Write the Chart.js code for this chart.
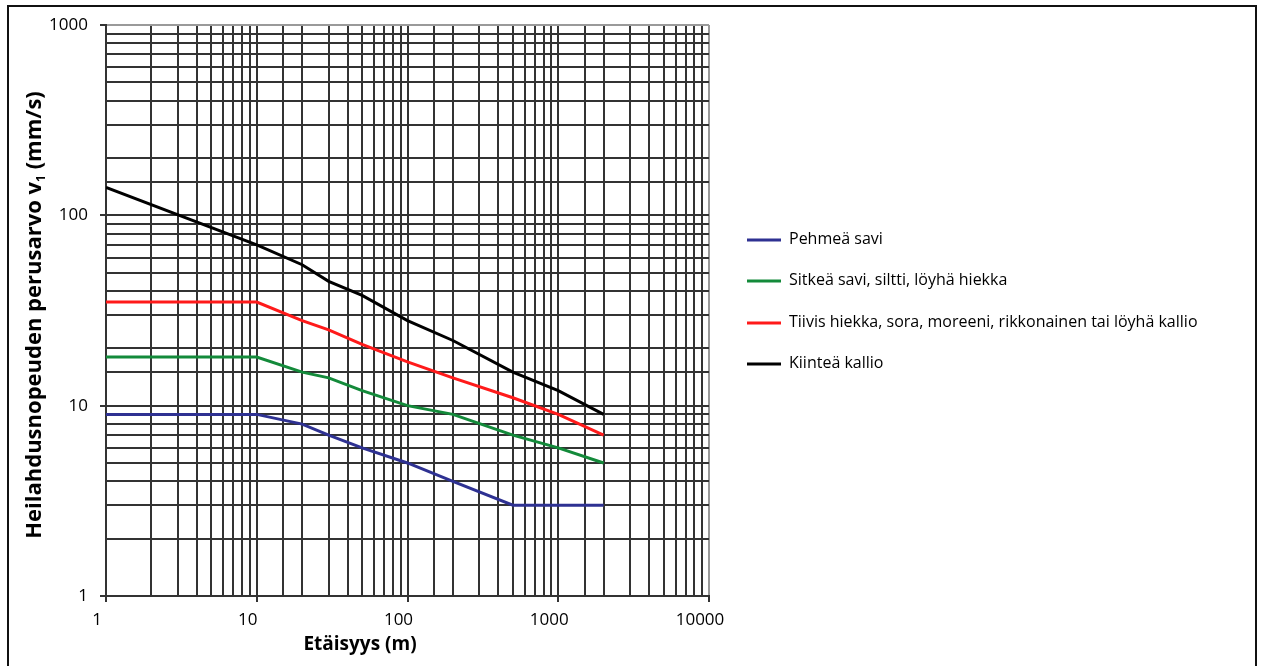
<!DOCTYPE html>
<html>
<head>
<meta charset="utf-8">
<script src="https://cdn.jsdelivr.net/npm/chart.js@4.4.1/dist/chart.umd.min.js"></script>
<style>
  html, body { margin: 0; padding: 0; background: #fff; }
  #frame { position: absolute; left: 7px; top: 5px; width: 1246px; height: 700px; border: 2px solid #111; }
  #wrap { position: absolute; left: 0; top: 0; width: 1261px; height: 666px; }
</style>
</head>
<body>
<div id="frame"></div>
<div id="wrap"><canvas id="chart"></canvas></div>
<script>
// Etäisyys (m) ja heilahdusnopeuden perusarvot (mm/s) maaperäluokittain
const distances     = [1, 10, 20, 30, 50, 100, 200, 500, 1000, 2000];
const pehmeaSavi    = [9, 9, 8, 7, 6, 5, 4, 3, 3, 3];
const sitkeaSavi    = [18, 18, 15, 14, 12, 10, 9, 7, 6, 5];
const tiivisHiekka  = [35, 35, 28, 25, 21, 17, 14, 11, 9, 7];
const kiinteaKallio = [140, 70, 55, 45, 38, 28, 22, 15, 12, 9];

const seriesLabels = [
  'Pehmeä savi',
  'Sitkeä savi, siltti, löyhä hiekka',
  'Tiivis hiekka, sora, moreeni, rikkonainen tai löyhä kallio',
  'Kiinteä kallio',
];
const seriesColors = ['#2e3192', '#138a3a', '#ff1a1a', '#000000'];

const xTickLabels = [1, 10, 100, 1000, 10000];
const yTickLabels = [1, 10, 100, 1000];

const FONT = '"Open Sans", Lato, "DejaVu Sans", sans-serif';
const GRID = '#333333';

function toPoints(values) {
  return values.map((v, i) => ({ x: distances[i], y: v }));
}

function isDecade(v) {
  const l = Math.log10(v);
  return Math.abs(l - Math.round(l)) < 1e-9;
}

function decadeLabel(list) {
  return (value) => (list.some((t) => Math.abs(t - value) < 1e-6) ? String(value) : '');
}

// grid: dark lines everywhere, lighter frame on the far edges
function gridColor(max) {
  return (ctx) => (ctx.tick && Math.abs(ctx.tick.value - max) < 1e-6 ? '#9a9a9a' : GRID);
}

function majorTickColor(ctx) {
  return ctx.tick && isDecade(ctx.tick.value) ? GRID : 'rgba(0,0,0,0)';
}

// legend on the right side + axis titles drawn straight on the canvas
const sideDecor = {
  id: 'sideDecor',
  afterDraw(chart) {
    const { ctx } = chart;
    ctx.save();

    // legend
    const rows = [239, 280, 322, 363];
    ctx.font = '16px ' + FONT;
    ctx.textBaseline = 'middle';
    ctx.textAlign = 'left';
    chart.data.datasets.forEach((ds, i) => {
      const y = rows[i];
      ctx.strokeStyle = ds.borderColor;
      ctx.lineWidth = 3;
      ctx.beginPath();
      ctx.moveTo(747, y + 1);
      ctx.lineTo(781, y + 1);
      ctx.stroke();
      ctx.fillStyle = '#000';
      ctx.fillText(ds.label, 789, y);
    });

    // x title
    ctx.font = 'bold 19px ' + FONT;
    ctx.textAlign = 'center';
    ctx.fillText('Etäisyys (m)', 360, 645);

    // y title with subscript
    const main = 'bold 22px ' + FONT;
    const sub = 'bold 12px ' + FONT;
    const parts = [
      { t: 'Heilahdusnopeuden perusarvo v', f: main, dy: 0 },
      { t: '1', f: sub, dy: 7 },
      { t: ' (mm/s)', f: main, dy: 0 },
    ];
    let total = 0;
    parts.forEach((p) => { ctx.font = p.f; p.w = ctx.measureText(p.t).width; total += p.w; });
    ctx.translate(35, 315);
    ctx.rotate(-Math.PI / 2);
    ctx.textAlign = 'left';
    let x = -total / 2;
    parts.forEach((p) => {
      ctx.font = p.f;
      ctx.fillText(p.t, x, p.dy);
      x += p.w;
    });

    ctx.restore();
  },
};

new Chart(document.getElementById('chart'), {
  type: 'line',
  data: {
    datasets: [pehmeaSavi, sitkeaSavi, tiivisHiekka, kiinteaKallio].map((vals, i) => ({
      label: seriesLabels[i],
      data: toPoints(vals),
      borderColor: seriesColors[i],
      backgroundColor: seriesColors[i],
      borderWidth: 3,
      pointRadius: 0,
      tension: 0,
      fill: false,
    })),
  },
  options: {
    responsive: true,
    maintainAspectRatio: false,
    animation: false,
    layout: { padding: { left: 19, right: 552, top: 25, bottom: 0 } },
    plugins: {
      legend: { display: false },
      tooltip: { enabled: false },
    },
    scales: {
      x: {
        type: 'logarithmic',
        min: 1,
        max: 10000,
        afterFit: (scale) => { scale.height = 70; },
        border: { color: GRID, width: 2 },
        grid: {
          color: gridColor(10000),
          lineWidth: 2,
          tickLength: 6,
          tickColor: majorTickColor,
        },
        ticks: {
          autoSkip: false,
          maxRotation: 0,
          padding: 8,
          labelOffset: -9,
          color: '#000',
          font: { family: FONT, size: 17 },
          callback: decadeLabel(xTickLabels),
        },
      },
      y: {
        type: 'logarithmic',
        min: 1,
        max: 1000,
        afterFit: (scale) => { scale.width = 87; },
        border: { color: GRID, width: 2 },
        grid: {
          color: gridColor(1000),
          lineWidth: 2,
          tickLength: 6,
          tickColor: majorTickColor,
        },
        ticks: {
          autoSkip: false,
          padding: 12,
          color: '#000',
          font: { family: FONT, size: 17 },
          callback: decadeLabel(yTickLabels),
        },
      },
    },
  },
  plugins: [sideDecor],
});
</script>
</body>
</html>
